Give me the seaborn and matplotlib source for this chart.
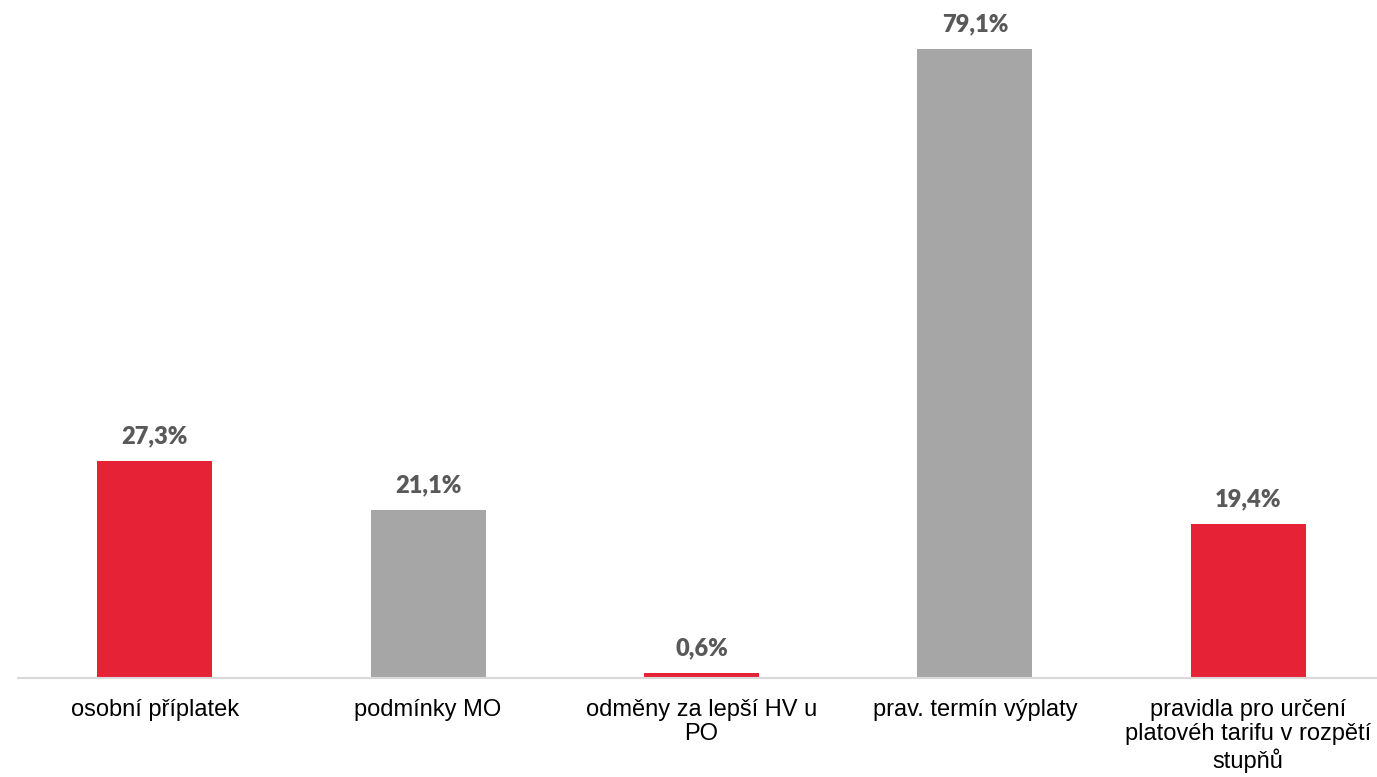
import matplotlib
matplotlib.use("Agg")
import matplotlib.pyplot as plt
import pandas as pd
import seaborn as sns

RED = "#E52236"
GRAY = "#A6A6A6"
LABEL_GRAY = "#595959"

categories = [
    "osobní příplatek",
    "podmínky MO",
    "odměny za lepší HV u\nPO",
    "prav. termín výplaty",
    "pravidla pro určení\nplatovéh tarifu v rozpětí\nstupňů",
]
values = [27.3, 21.1, 0.6, 79.1, 19.4]
bar_colors = [RED, GRAY, RED, GRAY, RED]

sns.set_theme(style="white")
plt.rcParams["font.family"] = ["Liberation Sans", "DejaVu Sans"]

df = pd.DataFrame({"category": categories, "value": values})

fig = plt.figure(figsize=(13.77, 7.77), dpi=100)
ax = fig.add_axes([18 / 1377, 99 / 777, 1367 / 1377, 678 / 777])

sns.barplot(data=df, x="category", y="value", hue="category",
            palette=bar_colors, width=0.42, legend=False, ax=ax,
            saturation=1, edgecolor="none")

# value labels above bars, decimal comma
for i, v in enumerate(values):
    ax.annotate(f"{v:.1f}%".replace(".", ","), (i, v), xytext=(0, 10),
                textcoords="offset points", ha="center", va="bottom",
                fontsize=17, fontweight="heavy", color=LABEL_GRAY,
                family=["Lato", "DejaVu Sans"])

ax.set_xlim(-0.5, len(categories) - 0.5)
ax.set_ylim(0, 85.3)
ax.set_xlabel("")
ax.set_ylabel("")
ax.set_yticks([])
ax.tick_params(axis="x", length=0, pad=15, labelsize=17, labelcolor="black")
for lbl in ax.get_xticklabels():
    lbl.set_linespacing(1.15)
for side in ("top", "left", "right"):
    ax.spines[side].set_visible(False)
ax.spines["bottom"].set_color("#D9D9D9")
ax.spines["bottom"].set_linewidth(1.5)

fig.savefig("out.png", dpi=100)
plt.close(fig)
